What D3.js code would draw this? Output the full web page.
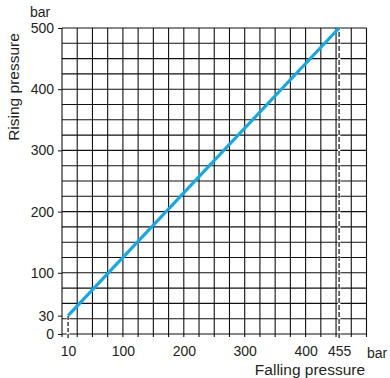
<!DOCTYPE html>
<html>
<head>
<meta charset="utf-8">
<script src="https://cdn.jsdelivr.net/npm/d3@7"></script>
<style>
  html, body { margin: 0; padding: 0; background: #fff; }
  svg { display: block; }
  text { font-family: "Liberation Sans", Arial, Helvetica, sans-serif; fill: #231f20; }
</style>
</head>
<body>
<svg id="chart" width="390" height="378"></svg>
<script>
// ---- data ----
const fallingPressure = [10, 455];   // bar (x)
const risingPressure  = [30, 500];   // bar (y)
const xTickValues = [10, 100, 200, 300, 400, 455];
const yTickValues = [0, 30, 100, 200, 300, 400, 500];
const gridStep = 25;
const domainMax = 500;
const xTitle = "Falling pressure";
const yTitle = "Rising pressure";
const unit = "bar";

const svg = d3.select("#chart");
const mLeft = 62, mRight = 366.5, mTop = 28, mBottom = 334;

const x = d3.scaleLinear().domain([0, domainMax]).range([mLeft, mRight]);
const y = d3.scaleLinear().domain([0, domainMax]).range([mBottom, mTop]);

const gridVals = d3.range(0, domainMax + 0.001, gridStep);

// grid: vertical lines (extend a bit below the axis)
svg.append("g").selectAll("line").data(gridVals).join("line")
  .attr("x1", d => x(d)).attr("x2", d => x(d))
  .attr("y1", y(domainMax)).attr("y2", y(0) + 3)
  .attr("stroke", "#111").attr("stroke-width", 1.1);

// grid: horizontal lines
svg.append("g").selectAll("line").data(gridVals).join("line")
  .attr("x1", x(0)).attr("x2", x(domainMax))
  .attr("y1", d => y(d)).attr("y2", d => y(d))
  .attr("stroke", "#111").attr("stroke-width", 1.1);

// y axis ticks + labels
const yAxis = d3.axisLeft(y).tickValues(yTickValues).tickSize(4).tickPadding(4).tickFormat(d3.format("d"));
const gy = svg.append("g").attr("transform", `translate(${mLeft},0)`).call(yAxis);
gy.select(".domain").remove();
gy.selectAll("line").attr("stroke", "#111");
gy.selectAll("text").style("font-size", "14px").attr("fill", "#231f20");

// x axis labels
const xAxis = d3.axisBottom(x).tickValues(xTickValues).tickSize(0).tickPadding(12).tickFormat(d3.format("d"));
const gx = svg.append("g").attr("transform", `translate(0,${mBottom})`).call(xAxis);
gx.select(".domain").remove();
gx.selectAll("text").style("font-size", "14px").attr("fill", "#231f20");

// dashed guide at x = first falling value (from below 0 up to 30)
svg.append("line")
  .attr("x1", x(fallingPressure[0])).attr("x2", x(fallingPressure[0]))
  .attr("y1", y(0) + 4).attr("y2", y(risingPressure[0]))
  .attr("stroke", "#fff").attr("stroke-width", 2.5);
svg.append("line")
  .attr("x1", x(fallingPressure[0])).attr("x2", x(fallingPressure[0]))
  .attr("y1", y(0) + 4).attr("y2", y(risingPressure[0]))
  .attr("stroke", "#111").attr("stroke-width", 1.2).attr("stroke-dasharray", "4,2");

// dashed guide at x = last falling value
svg.append("line")
  .attr("x1", x(fallingPressure[1])).attr("x2", x(fallingPressure[1]))
  .attr("y1", y(0) + 4).attr("y2", y(domainMax))
  .attr("stroke", "#fff").attr("stroke-width", 2.5);
svg.append("line")
  .attr("x1", x(fallingPressure[1])).attr("x2", x(fallingPressure[1]))
  .attr("y1", y(0) + 4).attr("y2", y(domainMax))
  .attr("stroke", "#111").attr("stroke-width", 1.2).attr("stroke-dasharray", "5,2");

// the characteristic line
const pts = fallingPressure.map((f, i) => [f, risingPressure[i]]);
svg.append("path")
  .datum(pts)
  .attr("d", d3.line().x(d => x(d[0])).y(d => y(d[1])))
  .attr("fill", "none")
  .attr("stroke", "#12a9e6")
  .attr("stroke-width", 3.2);

// unit labels
svg.append("text").attr("x", 40).attr("y", 17).attr("text-anchor", "middle")
  .style("font-size", "14px").text(unit);
svg.append("text").attr("x", 377).attr("y", 358).attr("text-anchor", "middle")
  .style("font-size", "14px").text(unit);

// axis titles
svg.append("text").attr("x", 310).attr("y", 375).attr("text-anchor", "middle")
  .style("font-size", "15.5px").text(xTitle);
svg.append("text")
  .attr("transform", "translate(19,87) rotate(-90)")
  .attr("text-anchor", "middle")
  .style("font-size", "15.5px").text(yTitle);
</script>
</body>
</html>
